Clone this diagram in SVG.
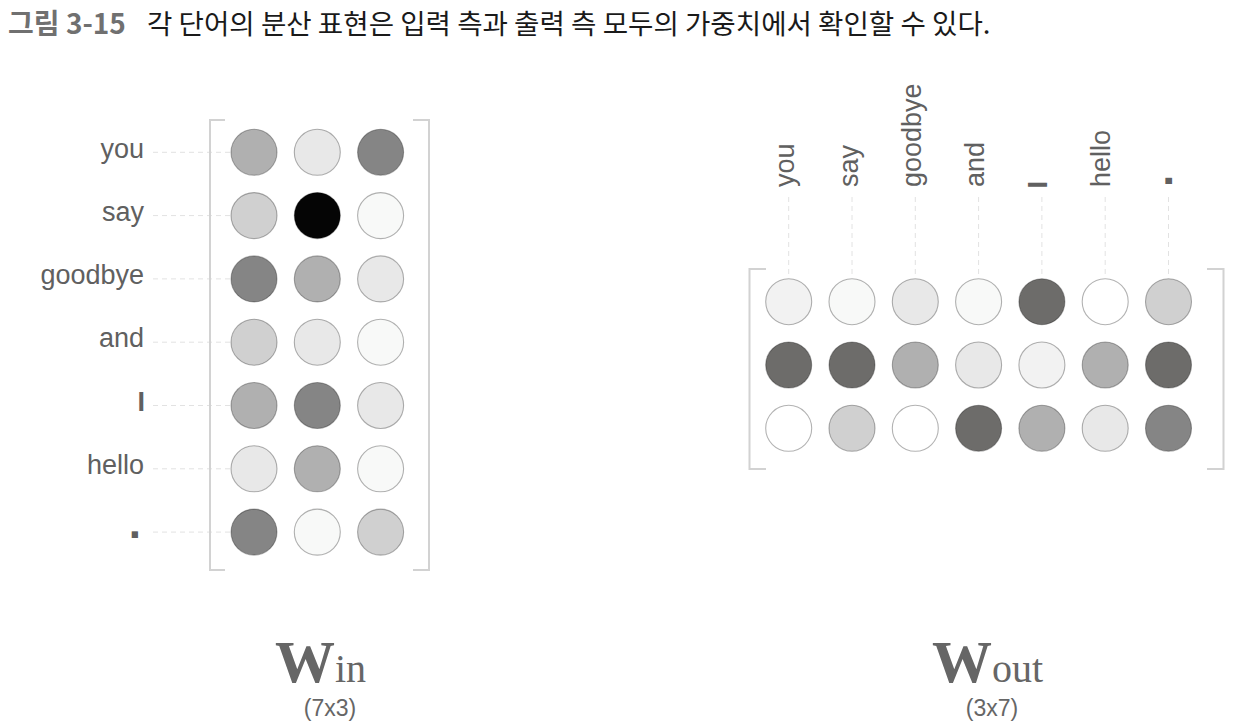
<svg xmlns="http://www.w3.org/2000/svg" width="1236" height="726" viewBox="0 0 1236 726">
<style>
.lbl{font-family:"Liberation Sans",Arial,sans-serif;font-size:27px;fill:#606060}
.dot{font-size:44px;font-weight:bold}
.c{stroke:#000;stroke-opacity:0.3;stroke-width:1.1}
.dash{stroke:#e2e2e2;stroke-width:1;stroke-dasharray:5 4;fill:none}
.br{stroke:#d2d2d2;stroke-width:2;fill:none}
.big{font-family:"Liberation Serif","Times New Roman",serif;fill:#666}
.dim{font-family:"Liberation Sans",Arial,sans-serif;font-size:23px;fill:#666;text-anchor:middle}
</style>
<rect width="1236" height="726" fill="#fff"/>
<g id="title">
<text x="8" y="34" font-family="'Noto Sans CJK KR',sans-serif" font-size="28" font-weight="bold" fill="#707070">그림 3-15</text>
<text x="147" y="34" font-family="'Noto Sans CJK KR',sans-serif" font-size="27.6" fill="#1a1a1a">각 단어의 분산 표현은 입력 측과 출력 측 모두의 가중치에서 확인할 수 있다.</text>
</g>
<g id="connectors">
<line class="dash" x1="153" y1="152.3" x2="231" y2="152.3"/>
<line class="dash" x1="153" y1="215.6" x2="231" y2="215.6"/>
<line class="dash" x1="153" y1="278.9" x2="231" y2="278.9"/>
<line class="dash" x1="153" y1="342.2" x2="231" y2="342.2"/>
<line class="dash" x1="153" y1="405.5" x2="231" y2="405.5"/>
<line class="dash" x1="153" y1="468.8" x2="231" y2="468.8"/>
<line class="dash" x1="153" y1="532.1" x2="231" y2="532.1"/>
<line class="dash" x1="788.7" y1="197" x2="788.7" y2="278"/>
<line class="dash" x1="852" y1="197" x2="852" y2="278"/>
<line class="dash" x1="915.3" y1="197" x2="915.3" y2="278"/>
<line class="dash" x1="978.6" y1="197" x2="978.6" y2="278"/>
<line class="dash" x1="1041.9" y1="197" x2="1041.9" y2="278"/>
<line class="dash" x1="1105.2" y1="197" x2="1105.2" y2="278"/>
<line class="dash" x1="1168.5" y1="197" x2="1168.5" y2="278"/>
</g>
<g id="win-labels">
<text class="lbl" x="144" y="157.5" text-anchor="end">you</text>
<text class="lbl" x="144" y="220.8" text-anchor="end">say</text>
<text class="lbl" x="144" y="284.1" text-anchor="end">goodbye</text>
<text class="lbl" x="144" y="347.4" text-anchor="end">and</text>
<text class="lbl" x="145" y="410.7" text-anchor="end" font-weight="bold">I</text>
<text class="lbl dot" x="141" y="537.7" text-anchor="end">.</text>
<text class="lbl" x="144" y="474" text-anchor="end">hello</text>
</g>
<g id="win-matrix">
<polyline class="br" points="225,120 210,120 210,570 225,570"/>
<polyline class="br" points="413,120 429,120 429,570 413,570"/>
<circle class="c" cx="254" cy="152.3" r="23" fill="#b0b0b0"/>
<circle class="c" cx="317.3" cy="152.3" r="23" fill="#e8e8e8"/>
<circle class="c" cx="380.6" cy="152.3" r="23" fill="#858585"/>
<circle class="c" cx="254" cy="215.6" r="23" fill="#d0d0d0"/>
<circle class="c" cx="317.3" cy="215.6" r="23" fill="#050505"/>
<circle class="c" cx="380.6" cy="215.6" r="23" fill="#f8f9f8"/>
<circle class="c" cx="254" cy="278.9" r="23" fill="#858585"/>
<circle class="c" cx="317.3" cy="278.9" r="23" fill="#b0b0b0"/>
<circle class="c" cx="380.6" cy="278.9" r="23" fill="#e8e8e8"/>
<circle class="c" cx="254" cy="342.2" r="23" fill="#d0d0d0"/>
<circle class="c" cx="317.3" cy="342.2" r="23" fill="#e8e8e8"/>
<circle class="c" cx="380.6" cy="342.2" r="23" fill="#f8f9f8"/>
<circle class="c" cx="254" cy="405.5" r="23" fill="#b0b0b0"/>
<circle class="c" cx="317.3" cy="405.5" r="23" fill="#858585"/>
<circle class="c" cx="380.6" cy="405.5" r="23" fill="#e8e8e8"/>
<circle class="c" cx="254" cy="468.8" r="23" fill="#e8e8e8"/>
<circle class="c" cx="317.3" cy="468.8" r="23" fill="#b0b0b0"/>
<circle class="c" cx="380.6" cy="468.8" r="23" fill="#f8f9f8"/>
<circle class="c" cx="254" cy="532.1" r="23" fill="#858585"/>
<circle class="c" cx="317.3" cy="532.1" r="23" fill="#f8f9f8"/>
<circle class="c" cx="380.6" cy="532.1" r="23" fill="#d0d0d0"/>
</g>
<g id="wout-labels">
<text class="lbl" transform="translate(794.2,187) rotate(-90)">you</text>
<text class="lbl" transform="translate(857.5,187) rotate(-90)">say</text>
<text class="lbl" transform="translate(921,187) rotate(-90)">goodbye</text>
<text class="lbl" transform="translate(984.3,187) rotate(-90)">and</text>
<text class="lbl" font-weight="bold" transform="translate(1046.5,188.5) rotate(-90)">I</text>
<text class="lbl" transform="translate(1110,187) rotate(-90)">hello</text>
<text class="lbl dot" transform="translate(1172,187) rotate(-90)">.</text>
</g>
<g id="wout-matrix">
<polyline class="br" points="766,269 749.5,269 749.5,469 766,469"/>
<polyline class="br" points="1207,269 1223.5,269 1223.5,469 1207,469"/>
<circle class="c" cx="788.7" cy="301.7" r="23" fill="#f2f2f2"/>
<circle class="c" cx="852" cy="301.7" r="23" fill="#f8f9f8"/>
<circle class="c" cx="915.3" cy="301.7" r="23" fill="#e8e8e8"/>
<circle class="c" cx="978.6" cy="301.7" r="23" fill="#f8f9f8"/>
<circle class="c" cx="1041.9" cy="301.7" r="23" fill="#6d6c6a"/>
<circle class="c" cx="1105.2" cy="301.7" r="23" fill="#ffffff"/>
<circle class="c" cx="1168.5" cy="301.7" r="23" fill="#d0d0d0"/>
<circle class="c" cx="788.7" cy="365" r="23" fill="#6d6c6a"/>
<circle class="c" cx="852" cy="365" r="23" fill="#6d6c6a"/>
<circle class="c" cx="915.3" cy="365" r="23" fill="#b0b0b0"/>
<circle class="c" cx="978.6" cy="365" r="23" fill="#e8e8e8"/>
<circle class="c" cx="1041.9" cy="365" r="23" fill="#f2f2f2"/>
<circle class="c" cx="1105.2" cy="365" r="23" fill="#b0b0b0"/>
<circle class="c" cx="1168.5" cy="365" r="23" fill="#6d6c6a"/>
<circle class="c" cx="788.7" cy="428.3" r="23" fill="#ffffff"/>
<circle class="c" cx="852" cy="428.3" r="23" fill="#d0d0d0"/>
<circle class="c" cx="915.3" cy="428.3" r="23" fill="#ffffff"/>
<circle class="c" cx="978.6" cy="428.3" r="23" fill="#6d6c6a"/>
<circle class="c" cx="1041.9" cy="428.3" r="23" fill="#b0b0b0"/>
<circle class="c" cx="1105.2" cy="428.3" r="23" fill="#e8e8e8"/>
<circle class="c" cx="1168.5" cy="428.3" r="23" fill="#858585"/>
</g>
<g id="win-caption">
<text class="big" x="275" y="682"><tspan font-size="60" font-weight="bold">W</tspan><tspan font-size="40">in</tspan></text>
<text class="dim" x="330" y="716">(7x3)</text>
</g>
<g id="wout-caption">
<text class="big" x="932" y="682"><tspan font-size="60" font-weight="bold">W</tspan><tspan font-size="40">out</tspan></text>
<text class="dim" x="992" y="716">(3x7)</text>
</g>
</svg>
